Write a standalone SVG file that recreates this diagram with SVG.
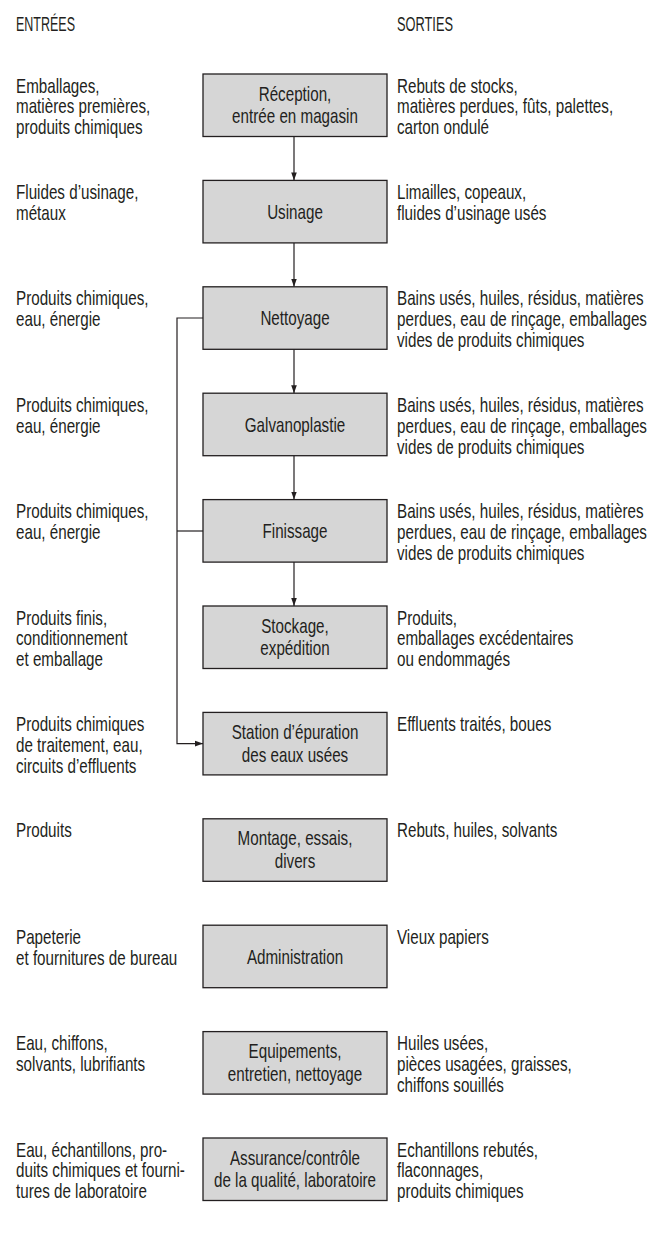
<svg xmlns="http://www.w3.org/2000/svg" width="651" height="1239" viewBox="0 0 651 1239">
<defs>
<marker id="ah" viewBox="0 0 8 8" refX="8" refY="4" markerWidth="8" markerHeight="8" markerUnits="userSpaceOnUse" orient="auto">
<path d="M0,1.2 L8,4 L0,6.8 Z" fill="#231f20"/>
</marker>
<style>
text{font-family:"Liberation Sans",Arial,sans-serif;font-size:20px;fill:#231f20}
.c{text-anchor:middle}
rect.b{fill:#d6d6d6;stroke:#231f20;stroke-width:1.3}
.cn path{fill:none;stroke:#231f20;stroke-width:1.2}
</style>
</defs>
<rect width="651" height="1239" fill="#fff"/>
<g id="headers">
<text x="16" y="30.5" textLength="59" lengthAdjust="spacingAndGlyphs">ENTRÉES</text>
<text x="397" y="30.5" textLength="56" lengthAdjust="spacingAndGlyphs">SORTIES</text>
</g>
<g class="cn" id="connectors">
<path d="M294,136.5 V180.4" marker-end="url(#ah)"/>
<path d="M294,242.9 V286.8" marker-end="url(#ah)"/>
<path d="M294,349.3 V393.2" marker-end="url(#ah)"/>
<path d="M294,455.7 V499.6" marker-end="url(#ah)"/>
<path d="M294,562.1 V606" marker-end="url(#ah)"/>
<path d="M203,318 H177 V743.6 H203" marker-end="url(#ah)"/>
<path d="M177,531 H203"/>
</g>
<g id="n1">
<rect class="b" x="203" y="74" width="184" height="62.5"/>
<text class="c" transform="translate(295 100.5) scale(.76 1)"><tspan x="0">Réception,</tspan><tspan x="0" dy="23">entrée en magasin</tspan></text>
<text transform="translate(16 92.5) scale(.76 1)"><tspan x="0">Emballages,</tspan><tspan x="0" dy="21">matières premières,</tspan><tspan x="0" dy="21">produits chimiques</tspan></text>
<text transform="translate(397 92.5) scale(.76 1)"><tspan x="0">Rebuts de stocks,</tspan><tspan x="0" dy="21">matières perdues, fûts, palettes,</tspan><tspan x="0" dy="21">carton ondulé</tspan></text>
</g>
<g id="n2">
<rect class="b" x="203" y="180.4" width="184" height="62.5"/>
<text class="c" transform="translate(295 218.7) scale(.76 1)">Usinage</text>
<text transform="translate(16 198.9) scale(.76 1)"><tspan x="0">Fluides d’usinage,</tspan><tspan x="0" dy="21">métaux</tspan></text>
<text transform="translate(397 198.9) scale(.76 1)"><tspan x="0">Limailles, copeaux,</tspan><tspan x="0" dy="21">fluides d’usinage usés</tspan></text>
</g>
<g id="n3">
<rect class="b" x="203" y="286.8" width="184" height="62.5"/>
<text class="c" transform="translate(295 325.1) scale(.76 1)">Nettoyage</text>
<text transform="translate(16 305.3) scale(.76 1)"><tspan x="0">Produits chimiques,</tspan><tspan x="0" dy="21">eau, énergie</tspan></text>
<text transform="translate(397 305.3) scale(.76 1)"><tspan x="0">Bains usés, huiles, résidus, matières</tspan><tspan x="0" dy="21">perdues, eau de rinçage, emballages</tspan><tspan x="0" dy="21">vides de produits chimiques</tspan></text>
</g>
<g id="n4">
<rect class="b" x="203" y="393.2" width="184" height="62.5"/>
<text class="c" transform="translate(295 431.5) scale(.76 1)">Galvanoplastie</text>
<text transform="translate(16 411.7) scale(.76 1)"><tspan x="0">Produits chimiques,</tspan><tspan x="0" dy="21">eau, énergie</tspan></text>
<text transform="translate(397 411.7) scale(.76 1)"><tspan x="0">Bains usés, huiles, résidus, matières</tspan><tspan x="0" dy="21">perdues, eau de rinçage, emballages</tspan><tspan x="0" dy="21">vides de produits chimiques</tspan></text>
</g>
<g id="n5">
<rect class="b" x="203" y="499.6" width="184" height="62.5"/>
<text class="c" transform="translate(295 537.9) scale(.76 1)">Finissage</text>
<text transform="translate(16 518.1) scale(.76 1)"><tspan x="0">Produits chimiques,</tspan><tspan x="0" dy="21">eau, énergie</tspan></text>
<text transform="translate(397 518.1) scale(.76 1)"><tspan x="0">Bains usés, huiles, résidus, matières</tspan><tspan x="0" dy="21">perdues, eau de rinçage, emballages</tspan><tspan x="0" dy="21">vides de produits chimiques</tspan></text>
</g>
<g id="n6">
<rect class="b" x="203" y="606" width="184" height="62.5"/>
<text class="c" transform="translate(295 632.5) scale(.76 1)"><tspan x="0">Stockage,</tspan><tspan x="0" dy="23">expédition</tspan></text>
<text transform="translate(16 624.5) scale(.76 1)"><tspan x="0">Produits finis,</tspan><tspan x="0" dy="21">conditionnement</tspan><tspan x="0" dy="21">et emballage</tspan></text>
<text transform="translate(397 624.5) scale(.76 1)"><tspan x="0">Produits,</tspan><tspan x="0" dy="21">emballages excédentaires</tspan><tspan x="0" dy="21">ou endommagés</tspan></text>
</g>
<g id="n7">
<rect class="b" x="203" y="712.4" width="184" height="62.5"/>
<text class="c" transform="translate(295 738.9) scale(.76 1)"><tspan x="0">Station d’épuration</tspan><tspan x="0" dy="23">des eaux usées</tspan></text>
<text transform="translate(16 730.9) scale(.76 1)"><tspan x="0">Produits chimiques</tspan><tspan x="0" dy="21">de traitement, eau,</tspan><tspan x="0" dy="21">circuits d’effluents</tspan></text>
<text transform="translate(397 730.9) scale(.76 1)">Effluents traités, boues</text>
</g>
<g id="n8">
<rect class="b" x="203" y="818.8" width="184" height="62.5"/>
<text class="c" transform="translate(295 845.3) scale(.76 1)"><tspan x="0">Montage, essais,</tspan><tspan x="0" dy="23">divers</tspan></text>
<text transform="translate(16 837.3) scale(.76 1)">Produits</text>
<text transform="translate(397 837.3) scale(.76 1)">Rebuts, huiles, solvants</text>
</g>
<g id="n9">
<rect class="b" x="203" y="925.2" width="184" height="62.5"/>
<text class="c" transform="translate(295 963.5) scale(.76 1)">Administration</text>
<text transform="translate(16 943.7) scale(.76 1)"><tspan x="0">Papeterie</tspan><tspan x="0" dy="21">et fournitures de bureau</tspan></text>
<text transform="translate(397 943.7) scale(.76 1)">Vieux papiers</text>
</g>
<g id="n10">
<rect class="b" x="203" y="1031.6" width="184" height="62.5"/>
<text class="c" transform="translate(295 1058.1) scale(.76 1)"><tspan x="0">Equipements,</tspan><tspan x="0" dy="23">entretien, nettoyage</tspan></text>
<text transform="translate(16 1050.1) scale(.76 1)"><tspan x="0">Eau, chiffons,</tspan><tspan x="0" dy="21">solvants, lubrifiants</tspan></text>
<text transform="translate(397 1050.1) scale(.76 1)"><tspan x="0">Huiles usées,</tspan><tspan x="0" dy="21">pièces usagées, graisses,</tspan><tspan x="0" dy="21">chiffons souillés</tspan></text>
</g>
<g id="n11">
<rect class="b" x="203" y="1138" width="184" height="62.5"/>
<text class="c" transform="translate(295 1164.5) scale(.76 1)"><tspan x="0">Assurance/contrôle</tspan><tspan x="0" dy="23">de la qualité, laboratoire</tspan></text>
<text transform="translate(16 1156.5) scale(.76 1)"><tspan x="0">Eau, échantillons, pro-</tspan><tspan x="0" dy="21">duits chimiques et fourni-</tspan><tspan x="0" dy="21">tures de laboratoire</tspan></text>
<text transform="translate(397 1156.5) scale(.76 1)"><tspan x="0">Echantillons rebutés,</tspan><tspan x="0" dy="21">flaconnages,</tspan><tspan x="0" dy="21">produits chimiques</tspan></text>
</g>
</svg>
